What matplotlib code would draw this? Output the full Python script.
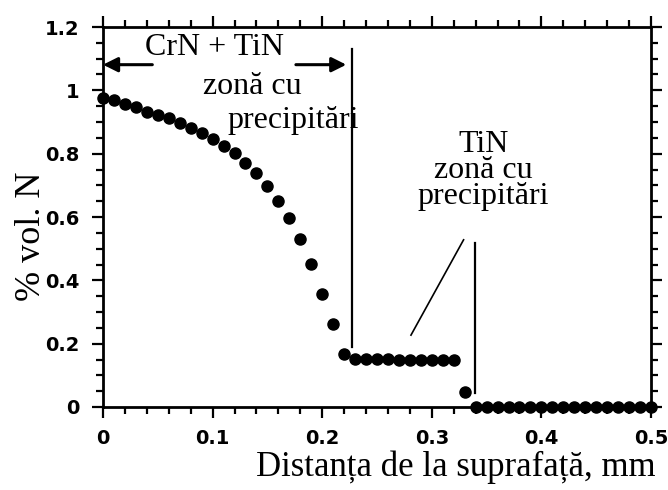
import matplotlib
matplotlib.use("Agg")
import matplotlib.pyplot as plt
from matplotlib.ticker import MultipleLocator

# Nitrogen volume fraction versus depth below the nitrided surface
depth_mm = [0.00, 0.01, 0.02, 0.03, 0.04, 0.05, 0.06, 0.07, 0.08, 0.09,
            0.10, 0.11, 0.12, 0.13, 0.14, 0.15, 0.16, 0.17, 0.18, 0.19,
            0.20, 0.21, 0.22,
            0.23, 0.24, 0.25, 0.26, 0.27, 0.28, 0.29, 0.30, 0.31, 0.32,
            0.33,
            0.34, 0.35, 0.36, 0.37, 0.38, 0.39, 0.40, 0.41, 0.42, 0.43,
            0.44, 0.45, 0.46, 0.47, 0.48, 0.49, 0.50]
vol_n = [0.976, 0.968, 0.957, 0.947, 0.933, 0.923, 0.912, 0.898, 0.881, 0.865,
         0.846, 0.825, 0.802, 0.770, 0.738, 0.698, 0.652, 0.598, 0.530, 0.451,
         0.357, 0.262, 0.167,
         0.153, 0.152, 0.151, 0.151, 0.150, 0.150, 0.149, 0.149, 0.148, 0.147,
         0.048,
         0.0, 0.0, 0.0, 0.0, 0.0, 0.0, 0.0, 0.0, 0.0, 0.0,
         0.0, 0.0, 0.0, 0.0, 0.0, 0.0, 0.0]

x_ticks = [0, 0.1, 0.2, 0.3, 0.4, 0.5]
x_tick_labels = ["0", "0.1", "0.2", "0.3", "0.4", "0.5"]
y_ticks = [0, 0.2, 0.4, 0.6, 0.8, 1.0, 1.2]
y_tick_labels = ["0", "0.2", "0.4", "0.6", "0.8", "1", "1.2"]

# zone boundaries (depth, lower end, upper end)
crn_boundary = (0.227, 0.19, 1.13)
tin_boundary = (0.339, 0.043, 0.518)
tin_pointer = ([0.281, 0.329], [0.227, 0.528])
crn_arrow_y = 1.081
crn_arrow_left = (0.045, 0.0)
crn_arrow_right = (0.176, 0.222)

serif = "Liberation Serif"

fig = plt.figure(figsize=(6.68, 4.90), dpi=100)
ax = fig.add_axes([103 / 668, 1 - 407 / 490, (651 - 103) / 668, (407 - 27) / 490])

ax.plot(depth_mm, vol_n, "o", color="black", markersize=8, clip_on=False, zorder=3)

ax.plot([crn_boundary[0]] * 2, crn_boundary[1:], color="black", lw=1.6)
ax.plot([tin_boundary[0]] * 2, tin_boundary[1:], color="black", lw=1.6)
ax.plot(tin_pointer[0], tin_pointer[1], color="black", lw=1.2)

arrow_kw = dict(arrowstyle="-|>", color="black", lw=2.2, mutation_scale=22,
                shrinkA=0, shrinkB=0)
ax.annotate("", xy=(crn_arrow_left[1], crn_arrow_y),
            xytext=(crn_arrow_left[0], crn_arrow_y), arrowprops=arrow_kw)
ax.annotate("", xy=(crn_arrow_right[1], crn_arrow_y),
            xytext=(crn_arrow_right[0], crn_arrow_y), arrowprops=arrow_kw)

txt = dict(family=serif, fontsize=23, color="black", ha="center", va="baseline")
ax.text(0.102, 1.112, "CrN + TiN", **txt)
ax.text(0.136, 0.988, "zonă cu", **txt)
ax.text(0.174, 0.880, "precipitări", **txt)
ax.text(0.347, 0.746, "TiN\nzonă cu\nprecipitări", family=serif, fontsize=23,
        color="black", ha="center", va="center", multialignment="center",
        linespacing=0.86)

ax.set_xlim(0, 0.5)
ax.set_ylim(0, 1.2)
ax.set_xticks(x_ticks, x_tick_labels)
ax.set_yticks(y_ticks, y_tick_labels)
ax.xaxis.set_minor_locator(MultipleLocator(0.02))
ax.yaxis.set_minor_locator(MultipleLocator(0.05))

ax.tick_params(which="both", direction="out", top=True, right=True,
               width=1.6, color="black")
ax.tick_params(which="major", length=8)
ax.tick_params(which="minor", length=5)
ax.tick_params(axis="x", pad=8)
ax.tick_params(axis="y", pad=9)
for lab in ax.get_xticklabels() + ax.get_yticklabels():
    lab.set_fontfamily("DejaVu Sans")
    lab.set_fontweight("bold")
    lab.set_fontsize(14)

for sp in ax.spines.values():
    sp.set_linewidth(2)

fig.text(31 / 668, 1 - 236 / 490, "% vol. N", family=serif, fontsize=26,
         rotation=90, ha="center", va="center")
fig.text(456 / 668, 1 - 467 / 490, "Distanța de la suprafață, mm", family=serif,
         fontsize=25, ha="center", va="center")

fig.savefig("out.png", dpi=100)
